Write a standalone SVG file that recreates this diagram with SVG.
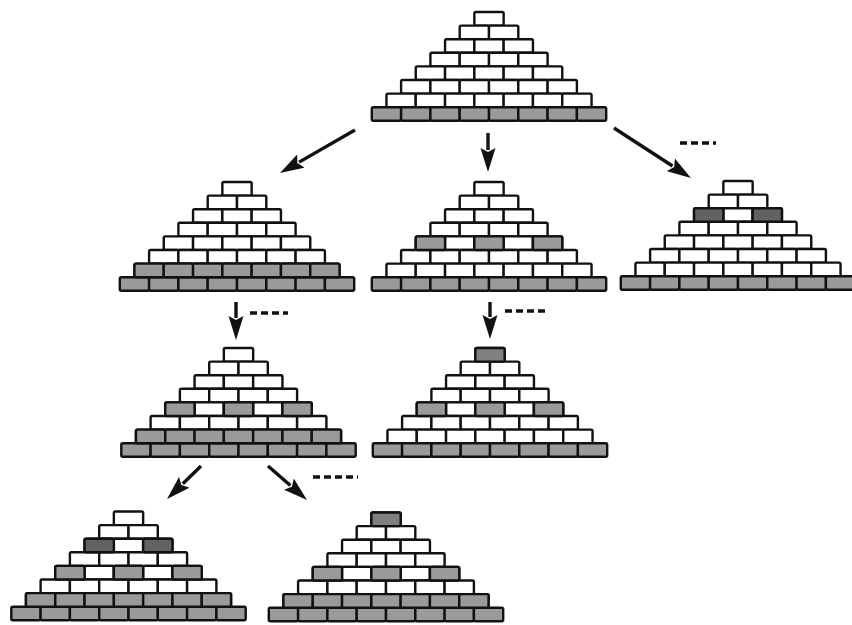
<svg xmlns="http://www.w3.org/2000/svg" xmlns:xlink="http://www.w3.org/1999/xlink" width="852" height="625" viewBox="0 0 852 625">
  <style>
    use { stroke: #111; stroke-width: 2.4; }
    .w { fill: #ffffff; }
    .g { fill: #9a9a9a; }
    .d { fill: #626262; }
    .m { fill: #808080; }
    .conn line { stroke: #111; stroke-width: 3.4; fill: none; }
    .conn line.arrow { marker-end: url(#ah); }
    .conn line.more { stroke-width: 3.4; stroke-dasharray: 7 4; }
  </style>
  <defs>
    <marker id="ah" markerUnits="userSpaceOnUse" markerWidth="26" markerHeight="16" viewBox="0 0 26 16" refX="2" refY="8" orient="auto">
      <path d="M0,0.5 L24,8 L0,15.5 L4,8 z" fill="#111"/>
    </marker>
    <!-- single brick, pyramid-local coordinates -->
    <rect id="b" width="29.3" height="13.6" rx="1.5"/>
    <!-- rows of bricks; pyramid apex centred on x=0, top at y=0 -->
    <g id="r1"><use href="#b" x="-14.65" y="0"/></g>
    <g id="r2"><use href="#b" x="-29.3" y="13.6"/><use href="#b" x="0" y="13.6"/></g>
    <g id="r3"><use href="#b" x="-43.95" y="27.2"/><use href="#b" x="-14.65" y="27.2"/><use href="#b" x="14.65" y="27.2"/></g>
    <g id="r4"><use href="#b" x="-58.6" y="40.8"/><use href="#b" x="-29.3" y="40.8"/><use href="#b" x="0" y="40.8"/><use href="#b" x="29.3" y="40.8"/></g>
    <g id="r5"><use href="#b" x="-73.25" y="54.4"/><use href="#b" x="-43.95" y="54.4"/><use href="#b" x="-14.65" y="54.4"/><use href="#b" x="14.65" y="54.4"/><use href="#b" x="43.95" y="54.4"/></g>
    <g id="r6"><use href="#b" x="-87.9" y="68"/><use href="#b" x="-58.6" y="68"/><use href="#b" x="-29.3" y="68"/><use href="#b" x="0" y="68"/><use href="#b" x="29.3" y="68"/><use href="#b" x="58.6" y="68"/></g>
    <g id="r7"><use href="#b" x="-102.55" y="81.6"/><use href="#b" x="-73.25" y="81.6"/><use href="#b" x="-43.95" y="81.6"/><use href="#b" x="-14.65" y="81.6"/><use href="#b" x="14.65" y="81.6"/><use href="#b" x="43.95" y="81.6"/><use href="#b" x="73.25" y="81.6"/></g>
    <g id="r8"><use href="#b" x="-117.2" y="95.2"/><use href="#b" x="-87.9" y="95.2"/><use href="#b" x="-58.6" y="95.2"/><use href="#b" x="-29.3" y="95.2"/><use href="#b" x="0" y="95.2"/><use href="#b" x="29.3" y="95.2"/><use href="#b" x="58.6" y="95.2"/><use href="#b" x="87.9" y="95.2"/></g>
    <!-- base pyramid: white courses on a grey foundation course -->
    <g id="base">
      <use href="#r1" class="w"/><use href="#r2" class="w"/><use href="#r3" class="w"/><use href="#r4" class="w"/>
      <use href="#r5" class="w"/><use href="#r6" class="w"/><use href="#r7" class="w"/><use href="#r8" class="g"/>
    </g>
    <!-- alternate bricks of the fifth course -->
    <g id="alt5"><use href="#b" x="-73.25" y="54.4"/><use href="#b" x="-14.65" y="54.4"/><use href="#b" x="43.95" y="54.4"/></g>
    <!-- outer bricks of the third course -->
    <g id="alt3"><use href="#b" x="-43.95" y="27.2"/><use href="#b" x="14.65" y="27.2"/></g>
  </defs>

  <rect width="852" height="625" fill="#ffffff"/>

  <g id="p-root" transform="translate(489,12)">
    <use href="#base"/>
  </g>

  <g id="p-a" transform="translate(237,182)">
    <use href="#base"/>
    <use href="#r7" class="g"/>
  </g>

  <g id="p-b" transform="translate(489,182)">
    <use href="#base"/>
    <use href="#alt5" class="g"/>
  </g>

  <g id="p-c" transform="translate(738,181)">
    <use href="#base"/>
    <use href="#alt3" class="d"/>
  </g>

  <g id="p-aa" transform="translate(238.5,348)">
    <use href="#base"/>
    <use href="#r7" class="g"/>
    <use href="#alt5" class="g"/>
  </g>

  <g id="p-ba" transform="translate(490,348)">
    <use href="#base"/>
    <use href="#alt5" class="g"/>
    <use href="#r1" class="m"/>
  </g>

  <g id="p-aaa" transform="translate(128.5,511.5)">
    <use href="#base"/>
    <use href="#r7" class="g"/>
    <use href="#alt5" class="g"/>
    <use href="#alt3" class="d"/>
  </g>

  <g id="p-aab" transform="translate(386,512.5)">
    <use href="#base"/>
    <use href="#r7" class="g"/>
    <use href="#alt5" class="g"/>
    <use href="#r1" class="m"/>
  </g>

  <g id="connectors" class="conn">
    <line class="arrow" x1="355" y1="130" x2="299.1" y2="162.1"/>
    <line class="arrow" x1="488" y1="133" x2="488" y2="150"/>
    <line class="arrow" x1="614" y1="128" x2="672.5" y2="166"/>
    <line class="more" x1="680" y1="143" x2="716" y2="143"/>

    <line class="arrow" x1="236" y1="302" x2="236" y2="318"/>
    <line class="more" x1="250" y1="313" x2="288" y2="313"/>
    <line class="arrow" x1="490" y1="302" x2="490" y2="317"/>
    <line class="more" x1="505" y1="311" x2="547" y2="311"/>

    <line class="arrow" x1="201" y1="466" x2="182.8" y2="483.7"/>
    <line class="arrow" x1="268" y1="466" x2="290.4" y2="485.5"/>
    <line class="more" x1="313" y1="477" x2="358" y2="477"/>
  </g>
</svg>
